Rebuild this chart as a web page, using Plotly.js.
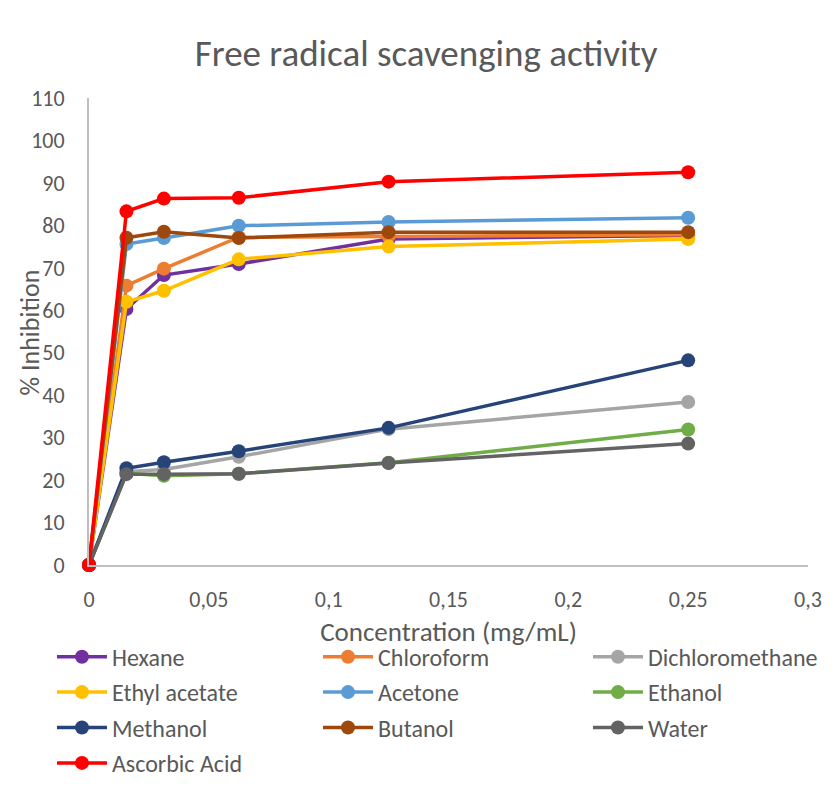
<!DOCTYPE html>
<html>
<head>
<meta charset="utf-8">
<script src="https://cdn.plot.ly/plotly-3.0.1.min.js"></script>
<style>body{margin:0;background:#fff}#chart{width:834px;height:800px}</style>
</head>
<body>
<div id="chart"></div>
<script>
const concentrations = [0, 0.015625, 0.03125, 0.0625, 0.125, 0.25];
const seriesNames = ["Hexane","Chloroform","Dichloromethane","Ethyl acetate","Acetone","Ethanol","Methanol","Butanol","Water","Ascorbic Acid"];
const hexane = [0, 60.3, 68.3, 70.9, 76.8, 77.6];
const chloroform = [0, 65.8, 69.8, 77.2, 77.4, 77.8];
const dichloromethane = [0, 22.0, 22.5, 25.5, 32.0, 38.4];
const ethylAcetate = [0, 62.0, 64.6, 72.0, 75.0, 76.8];
const acetone = [0, 75.6, 77.0, 79.9, 80.8, 81.8];
const ethanol = [0, 21.6, 21.0, 21.5, 24.1, 31.9];
const methanol = [0, 22.8, 24.2, 26.8, 32.3, 48.2];
const butanol = [0, 77.1, 78.5, 77.0, 78.4, 78.4];
const water = [0, 21.4, 21.4, 21.5, 24.0, 28.6];
const ascorbicAcid = [0, 83.3, 86.3, 86.5, 90.3, 92.5];
const seriesValues = [hexane, chloroform, dichloromethane, ethylAcetate, acetone, ethanol, methanol, butanol, water, ascorbicAcid];
const colors = ["#7030A0","#ED7D31","#A5A5A5","#FFC000","#5B9BD5","#70AD47","#264478","#9E480E","#636363","#FF0000"];

const font = "Carlito, 'Liberation Sans Narrow', 'Noto Sans', sans-serif";
const legendIds = ['legend', 'legend2', 'legend3'];
const traces = seriesNames.map((n, i) => ({
  x: concentrations, y: seriesValues[i], name: n, type: 'scatter', mode: 'lines+markers',
  line: {color: colors[i], width: 3.5},
  marker: {color: colors[i], size: 14},
  cliponaxis: false,
  legend: legendIds[i % 3],
  legendgroup: 'g' + i
}));

const legendBase = (x) => ({
  orientation: 'v', x: x, xanchor: 'left', y: -0.149, yanchor: 'top', traceorder: 'grouped',
  tracegroupgap: 1.2,
  font: {family: font, size: 24, color: '#595959'}, itemwidth: 50, bgcolor: 'rgba(0,0,0,0)'
});

const layout = {
  width: 834, height: 800,
  margin: {l: 89, r: 26, t: 98, b: 235, autoexpand: false},
  paper_bgcolor: '#fff', plot_bgcolor: '#fff',
  separators: ', ',
  showlegend: true,
  title: {text: 'Free radical scavenging activity', x: 0.511, xanchor: 'center', y: 0.934, yanchor: 'middle',
          font: {family: font, size: 37, color: '#595959'}},
  xaxis: {range: [0, 0.3], dtick: 0.05, tick0: 0, showgrid: false, zeroline: false,
          showline: true, linecolor: '#BFBFBF', linewidth: 2, ticks: '', ticklabelstandoff: 14,
          tickfont: {family: font, size: 22, color: '#595959'},
          title: {text: 'Concentration (mg/mL)', standoff: 10, font: {family: font, size: 27, color: '#595959'}}},
  yaxis: {range: [0, 110], dtick: 10, tick0: 0, showgrid: false, zeroline: false,
          showline: true, linecolor: '#BFBFBF', linewidth: 2, ticks: '', ticklabelstandoff: 18,
          tickfont: {family: font, size: 22, color: '#595959'}},
  annotations: [{text: '% Inhibition', xref: 'paper', yref: 'paper', x: -0.082, y: 0.498,
                 xanchor: 'center', yanchor: 'middle', textangle: -90, showarrow: false,
                 font: {family: font, size: 26, color: '#595959'}}],
  legend: legendBase(-0.0515),
  legend2: legendBase(0.3185),
  legend3: legendBase(0.6940)
};
Plotly.newPlot('chart', traces, layout, {displayModeBar: false, staticPlot: true});
</script>
</body>
</html>
